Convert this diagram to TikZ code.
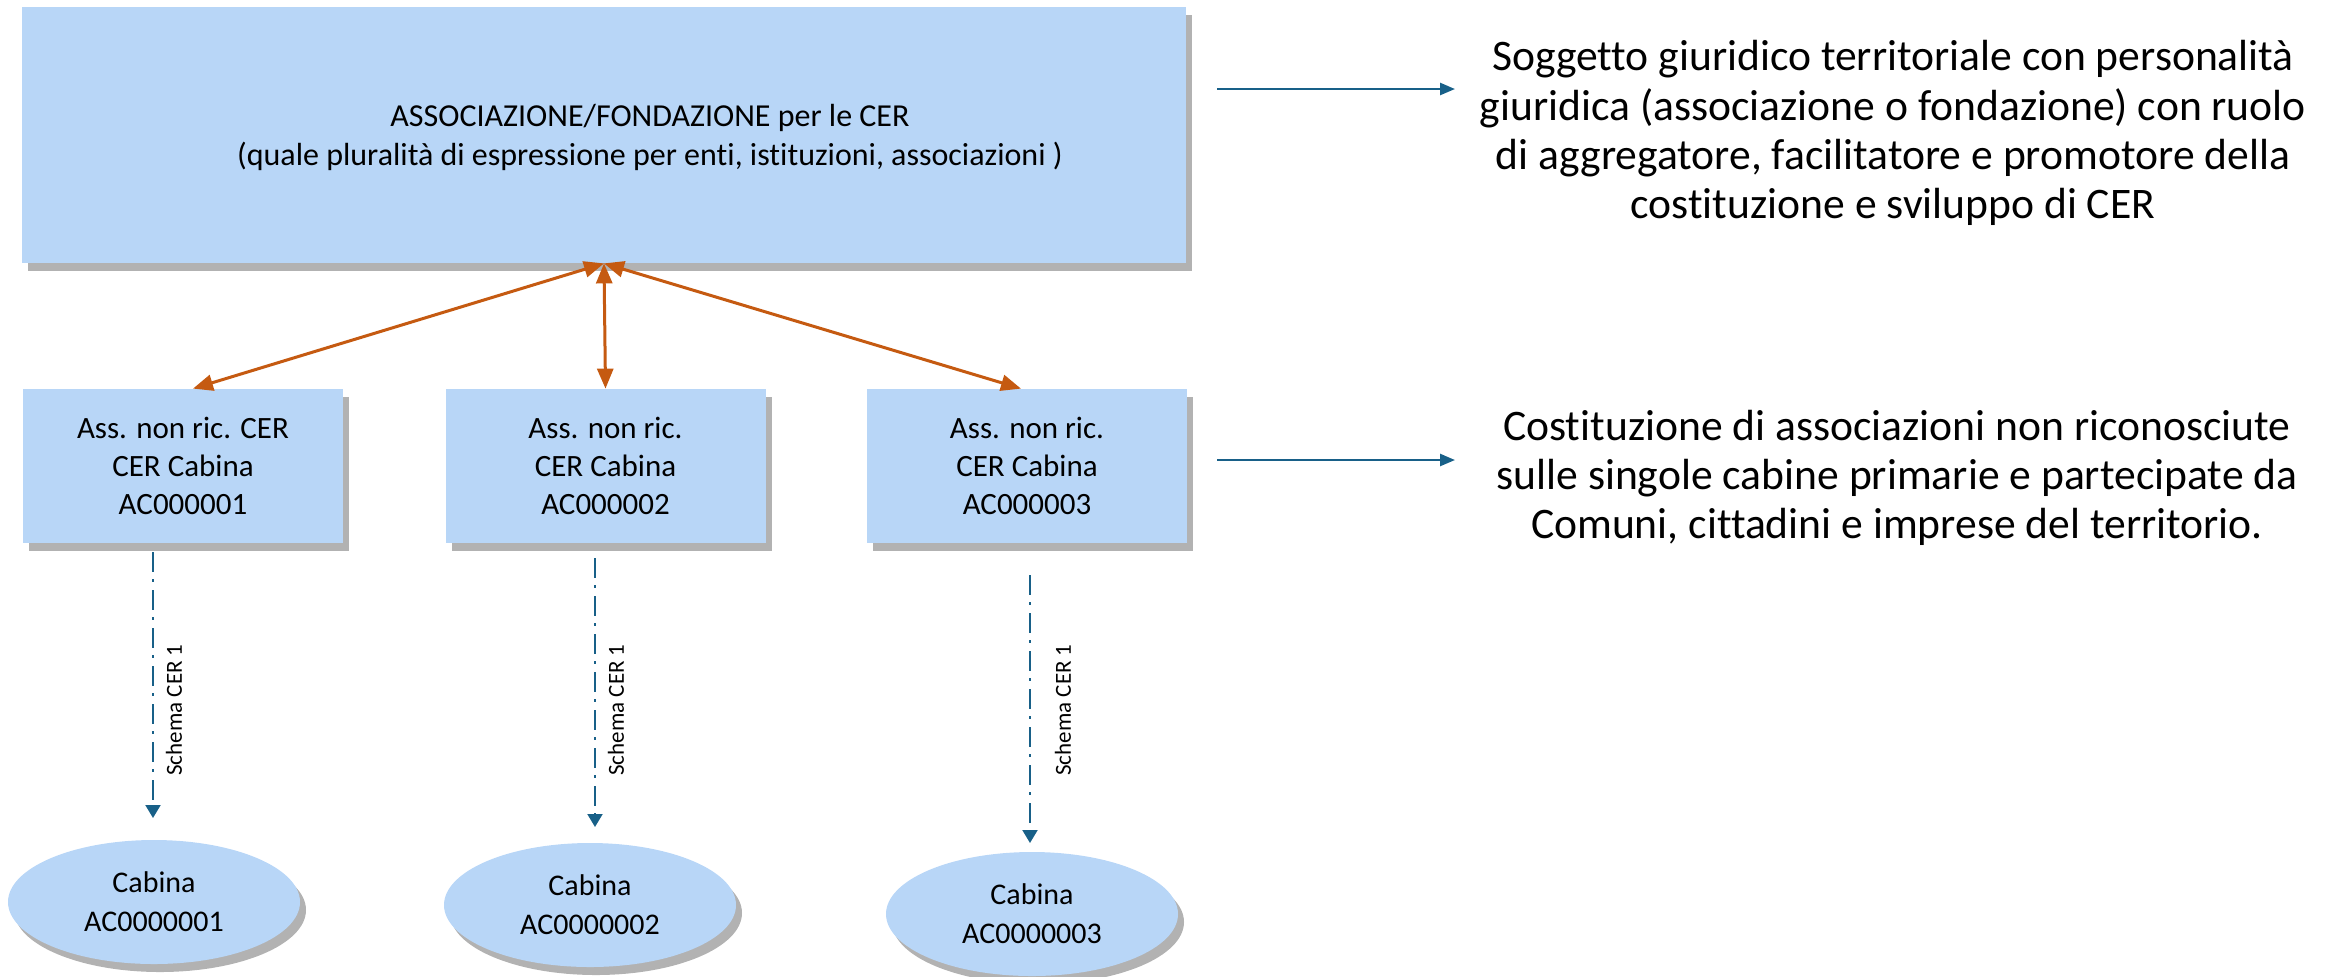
\documentclass[tikz,border=0pt]{standalone}
\usepackage{fontspec}
\setmainfont{Carlito}[Ligatures=NoCommon]
\usetikzlibrary{arrows.meta,shapes.geometric,shadows}
\definecolor{boxfill}{RGB}{184,214,247}
\definecolor{orangeline}{RGB}{197,90,17}
\definecolor{blueline}{RGB}{24,96,136}
\tikzset{
  shadowed/.style={drop shadow={shadow xshift=3pt,shadow yshift=-4pt,fill=black,opacity=0.3}},
  mainbox/.style={rectangle,fill=boxfill,shadowed,minimum width=582pt,minimum height=128pt,inner sep=0pt},
  cerbox/.style={rectangle,fill=boxfill,shadowed,minimum width=160pt,minimum height=77pt,inner sep=0pt,align=center,font=\fontsize{15.5}{19}\selectfont},
  cabina/.style={ellipse,fill=boxfill,shadowed,minimum width=146pt,minimum height=62pt,inner sep=0pt,align=center,font=\fontsize{15}{19.5}\selectfont},
  biarrow/.style={draw=orangeline,line width=1.5pt,{Triangle[length=10pt,width=8pt]}-{Triangle[length=10pt,width=8pt]}},
  sidearrow/.style={draw=blueline,line width=1.25pt,-{Triangle[length=7.5pt,width=6pt]}},
  dasharrow/.style={draw=blueline,line width=1pt,dash pattern=on 10pt off 3.5pt on 1.5pt off 4pt,-{Triangle[length=6.5pt,width=7.5pt]}},
  sidetext/.style={align=center,font=\fontsize{21.8}{24.6}\selectfont},
  schemalabel/.style={rotate=90,font=\fontsize{11.5}{14}\selectfont,inner sep=0pt}
}
\begin{document}
\begin{tikzpicture}[x=0.5pt,y=-0.5pt]
\useasboundingbox (0,0) rectangle (2333,976);

% main box
\node[mainbox] (main) at (604,135) {};
\node[align=center,font=\fontsize{16}{19.5}\selectfont] (maintxt) at (650,137)
  {ASSOCIAZIONE/FONDAZIONE per le CER\\(quale pluralità di espressione per enti, istituzioni, associazioni )};

% CER boxes
\node[cerbox] (b1) at (183,466) {Ass. non ric. CER\\CER Cabina\\AC000001};
\node[cerbox] (b2) at (605.5,466) {Ass. non ric.\\CER Cabina\\AC000002};
\node[cerbox] (b3) at (1027,466) {Ass. non ric.\\CER Cabina\\AC000003};

% ellipses
\node[cabina] (e1) at (154,902) {Cabina\\AC0000001};
\node[cabina] (e2) at (590,905) {Cabina\\AC0000002};
\node[cabina] (e3) at (1032,914) {Cabina\\AC0000003};

% orange double arrows
\draw[biarrow] (main.south) -- ([xshift=5pt]b1.north);
\draw[biarrow] (main.south) -- (b2.north);
\draw[biarrow] (main.south) -- ([xshift=-3pt]b3.north);

% dash-dot connectors
\coordinate (d1s) at (153,552);
\coordinate (d1e) at (153,818);
\coordinate (d2s) at (595,558);
\coordinate (d2e) at (595,827);
\coordinate (d3s) at (1030,575);
\coordinate (d3e) at (1030,843);
\draw[dasharrow] (d1s) -- (d1e);
\draw[dasharrow] (d2s) -- (d2e);
\draw[dasharrow] (d3s) -- (d3e);
\node[schemalabel] (l1) at (174,710) {Schema CER 1};
\node[schemalabel] (l2) at (616,710) {Schema CER 1};
\node[schemalabel] (l3) at (1063,710) {Schema CER 1};

% side texts and arrows
\node[sidetext] (t1) at (1893,133) {Soggetto giuridico territoriale con personalità\\giuridica (associazione o fondazione) con ruolo\\di aggregatore, facilitatore e promotore della\\costituzione e sviluppo di CER};
\node[sidetext] (t2) at (1897,478) {Costituzione di associazioni non riconosciute\\sulle singole cabine primarie e partecipate da\\Comuni, cittadini e imprese del territorio.};
\coordinate (a1s) at (1217,89);
\coordinate (a1e) at (1455,89);
\coordinate (a2s) at (1217,460);
\coordinate (a2e) at (1455,460);
\draw[sidearrow] (a1s) -- (a1e);
\draw[sidearrow] (a2s) -- (a2e);
\end{tikzpicture}
\end{document}
